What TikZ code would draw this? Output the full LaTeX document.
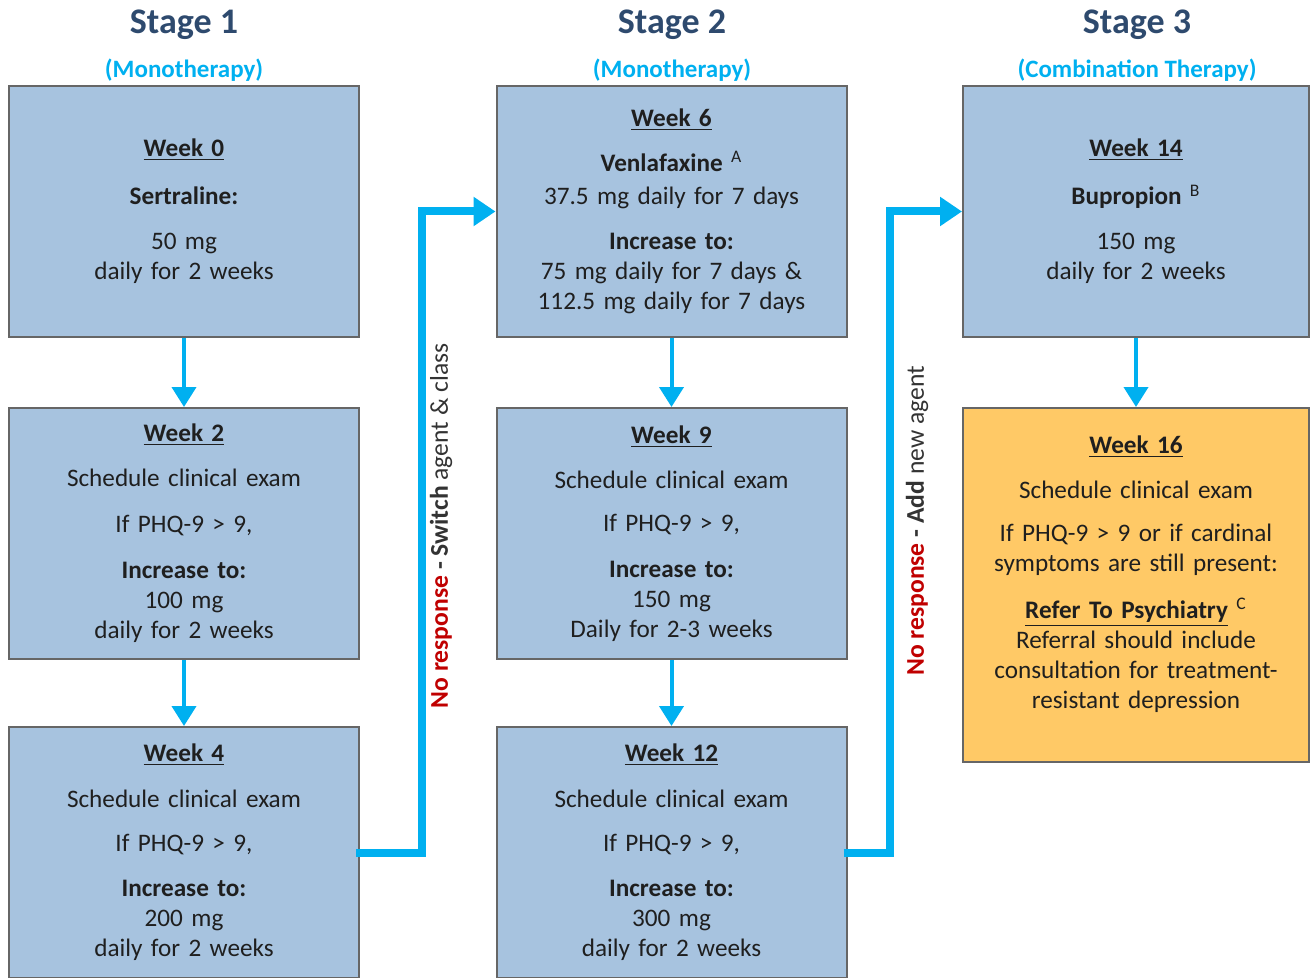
\documentclass[tikz,border=0pt]{standalone}
\usepackage{fontspec}
\setmainfont{Carlito}
\usetikzlibrary{arrows.meta}
\definecolor{boxblue}{HTML}{A7C3DF}
\definecolor{boxorange}{HTML}{FFC966}
\definecolor{arrowblue}{HTML}{00B0F0}
\definecolor{stagetxt}{HTML}{2E4A6E}
\definecolor{noresp}{HTML}{C00000}
\tikzset{
	weekbox/.style={rectangle, draw=black!60, line width=1pt, fill=boxblue, minimum width=175pt, minimum height=125.5pt, text width=172pt, align=center, inner sep=0pt, text=black!88, font=\fontsize{12.6}{15}\selectfont},
	stagehead/.style={text=stagetxt, font=\fontsize{18}{20}\selectfont\bfseries},
	stagesub/.style={text=arrowblue, font=\fontsize{12.5}{15}\selectfont\bfseries},
	nextweek/.style={arrowblue, line width=2pt, -{Triangle[width=12pt,length=10pt]}},
	nextstage/.style={arrowblue, line width=4pt, -{Triangle[width=14pt,length=11pt]}},
	sidelabel/.style={rotate=90, text=black!80, font=\fontsize{12.8}{15}\selectfont}
}

\begin{document}
\begin{tikzpicture}[x=0.5pt, y=-0.5pt]
	\useasboundingbox (0,0) rectangle (1310,978);

	% stage headers
	\node[stagehead] (s1) at (184,25) {Stage 1};
	\node[stagesub] (m1) at (184,70) {(Monotherapy)};
	\node[stagehead] (s2) at (672,25) {Stage 2};
	\node[stagesub] (m2) at (672,70) {(Monotherapy)};
	\node[stagehead] (s3) at (1137,25) {Stage 3};
	\node[stagesub] (m3) at (1137,70) {(Combination Therapy)};

	% stage 1
	\node[weekbox] (w0) at (184,211.5) {\underline{\textbf{Week 0}}\\[9pt]
		\textbf{Sertraline:}\\[7.5pt]
		50 mg\\ daily for 2 weeks};
	\node[weekbox] (w2) at (184,533.5) {\underline{\textbf{Week 2}}\\[7.5pt]
		Schedule clinical exam\\[8pt]
		If PHQ-9 > 9,\\[8pt]
		\textbf{Increase to:}\\ 100 mg\\ daily for 2 weeks};
	\node[weekbox] (w4) at (184,852.5) {\underline{\textbf{Week 4}}\\[8pt]
		Schedule clinical exam\\[7pt]
		If PHQ-9 > 9,\\[7.5pt]
		\textbf{Increase to:}\\ 200 mg\\ daily for 2 weeks};

	% stage 2
	\node[weekbox] (w6) at (671.5,211.5) {\underline{\textbf{Week 6}}\\[7.5pt]
		\textbf{Venlafaxine} \textsuperscript{A}\\[1.5pt]
		37.5 mg daily for 7 days\\[7.5pt]
		\textbf{Increase to:}\\ 75 mg daily for 7 days \&\\ 112.5 mg daily for 7 days};
	\node[weekbox] (w9) at (671.5,533.5) {\underline{\textbf{Week 9}}\\[7.5pt]
		Schedule clinical exam\\[6.5pt]
		If PHQ-9 > 9,\\[8pt]
		\textbf{Increase to:}\\ 150 mg\\ Daily for 2-3 weeks};
	\node[weekbox] (w12) at (671.5,852.5) {\underline{\textbf{Week 12}}\\[8pt]
		Schedule clinical exam\\[7pt]
		If PHQ-9 > 9,\\[7.5pt]
		\textbf{Increase to:}\\ 300 mg\\ daily for 2 weeks};

	% stage 3
	\node[weekbox, minimum width=173pt] (w14) at (1136,211.5) {\underline{\textbf{Week 14}}\\[9pt]
		\textbf{Bupropion} \textsuperscript{B}\\[7.5pt]
		150 mg\\ daily for 2 weeks};
	\node[weekbox, minimum width=173pt, minimum height=177pt, fill=boxorange] (w16) at (1136,585) {\underline{\textbf{Week 16}}\\[7.5pt]
		Schedule clinical exam\\[6.5pt]
		If PHQ-9 > 9 or if cardinal\\ symptoms are still present:\\[8.5pt]
		\underline{\textbf{Refer To Psychiatry}} \textsuperscript{C}\\
		Referral should include\\ consultation for treatment-\\ resistant depression\\[-2pt] \mbox{}};

	% week to week
	\draw[nextweek] (w0) -- (w2);
	\draw[nextweek] (w2) -- (w4);
	\draw[nextweek] (w6) -- (w9);
	\draw[nextweek] (w9) -- (w12);
	\draw[nextweek] (w14) -- (w16);

	% stage to stage
	\coordinate (j1) at (422,500);
	\coordinate (j2) at (890,500);
	\draw[nextstage] ([xshift=-2pt]w4.east) -| (j1) |- (w6.west);
	\draw[nextstage] ([xshift=-2pt]w12.east) -| (j2) |- (w14.west);

	\node[sidelabel] (l1) at (441,526) {\textcolor{noresp}{\textbf{No response}} \textbf{- Switch} agent \& class};
	\node[sidelabel] (l2) at (917,521) {\textcolor{noresp}{\textbf{No response}} \textbf{- Add} new agent};
\end{tikzpicture}
\end{document}
